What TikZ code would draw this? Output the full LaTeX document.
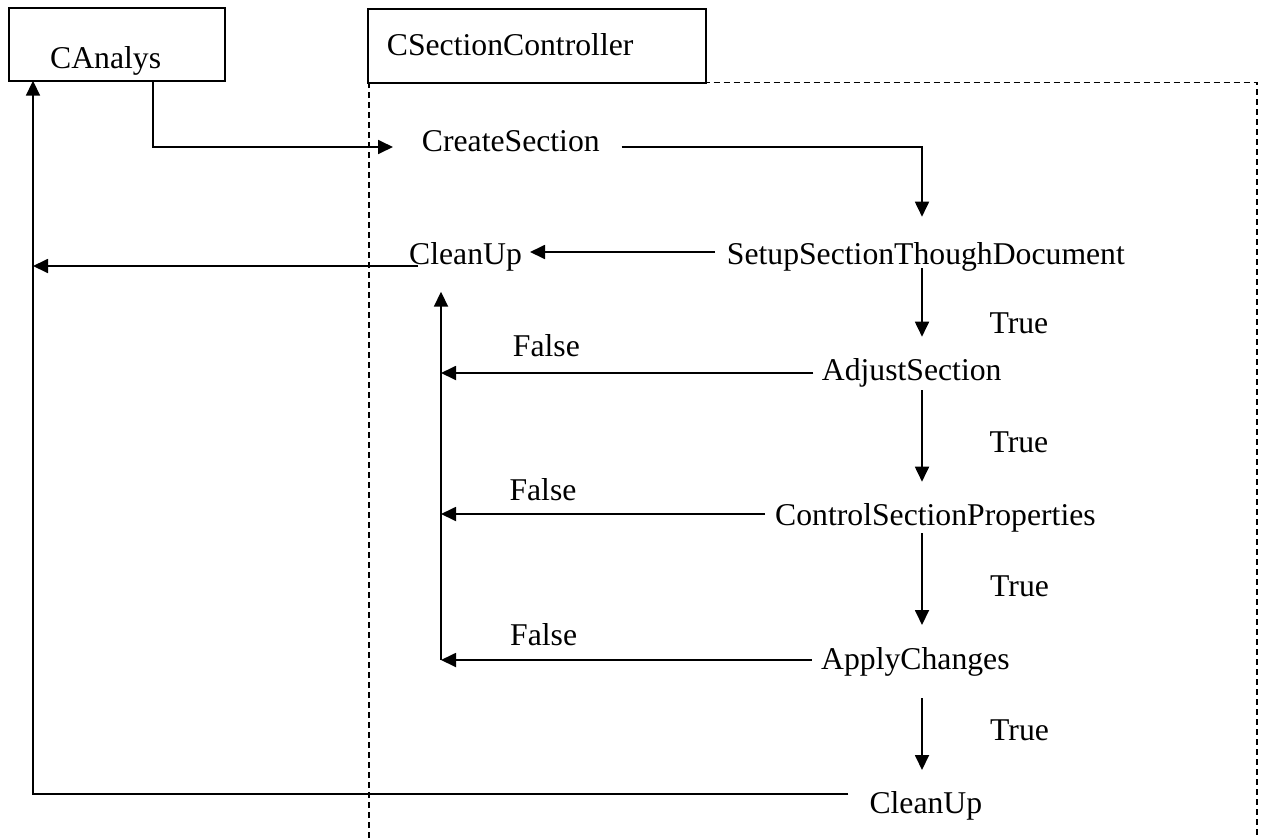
\documentclass[tikz,border=0pt]{standalone}
\usepackage{fontspec}
\setmainfont{Liberation Serif}
\usetikzlibrary{arrows.meta}
\begin{document}
\begin{tikzpicture}[x=1pt,y=-1pt,
  lbl/.style={inner sep=0pt, anchor=base west, font=\fontsize{31.7}{38}\selectfont},
  boxnode/.style={draw, line width=1.8pt, inner sep=0pt},
  arr/.style={line width=1.8pt, -{Triangle[length=15pt,width=14pt]}},
  dashline/.style={line width=1.4pt, dash pattern=on 6pt off 4pt}]
\useasboundingbox[fill=white] (0,0) rectangle (1266,838);

% container (dashed)
\draw[dashline] (369,838) -- (369,82.7) -- (1257,82.7) -- (1257,838);

% boxes
\node[boxnode, fill=white, minimum width=216.3pt, minimum height=72.4pt] (canalys) at (117.15,44.5) {};
\node[boxnode, fill=white, minimum width=337.7pt, minimum height=73.7pt] (csc) at (536.85,45.85) {};

% texts
\node[lbl] (canalysT) at (50,68) {CAnalys};
\node[lbl] (cscT) at (386.7,55) {CSectionController};
\node[lbl] (create) at (421.7,151) {CreateSection};
\node[lbl] (cleanA) at (409,264) {CleanUp};
\node[lbl] (setup) at (726.7,264) {SetupSectionThoughDocument};
\node[lbl] (true1) at (989.3,333.3) {True};
\node[lbl] (false1) at (512.7,356) {False};
\node[lbl] (adjust) at (821.7,380) {AdjustSection};
\node[lbl] (true2) at (989.3,452.7) {True};
\node[lbl] (false2) at (509.3,500.7) {False};
\node[lbl] (control) at (775,525) {ControlSectionProperties};
\node[lbl] (true3) at (990,596.7) {True};
\node[lbl] (false3) at (510,645) {False};
\node[lbl] (apply) at (821,669.3) {ApplyChanges};
\node[lbl] (true4) at (990,740.7) {True};
\node[lbl] (cleanB) at (869.3,813.3) {CleanUp};

% connector points
\coordinate (a0) at (153,80.7);
\coordinate (a1) at (393,147);
\coordinate (b0) at (621.7,147);
\coordinate (b1) at (922,216.7);
\coordinate (c0) at (715,252);
\coordinate (c1) at (530,252);
\coordinate (d0) at (418,266);
\coordinate (d1) at (33,266);
\coordinate (e0) at (922,268);
\coordinate (e1) at (922,336.7);
\coordinate (f0) at (813.3,373);
\coordinate (f1) at (441,373);
\coordinate (g0) at (922,390);
\coordinate (g1) at (922,481.7);
\coordinate (h0) at (765,514);
\coordinate (h1) at (441,514);
\coordinate (i0) at (922,533.3);
\coordinate (i1) at (922,625);
\coordinate (j0) at (811.7,660);
\coordinate (j1) at (441,660);
\coordinate (k1) at (441,291.7);
\coordinate (l0) at (922,698.3);
\coordinate (l1) at (922,770);
\coordinate (m0) at (848.3,794);
\coordinate (m1) at (33,80.7);

% connectors
\draw[arr] (a0) |- (a1);
\draw[arr] (b0) -| (b1);
\draw[arr] (c0) -- (c1);
\draw[arr] (d0) -- (d1);
\draw[arr] (e0) -- (e1);
\draw[arr] (f0) -- (f1);
\draw[arr] (g0) -- (g1);
\draw[arr] (h0) -- (h1);
\draw[arr] (i0) -- (i1);
\draw[arr] (j0) -- (j1);
\draw[arr] (j1) -- (k1);
\draw[arr] (l0) -- (l1);
\draw[arr] (m0) -| (m1);
\end{tikzpicture}
\end{document}
